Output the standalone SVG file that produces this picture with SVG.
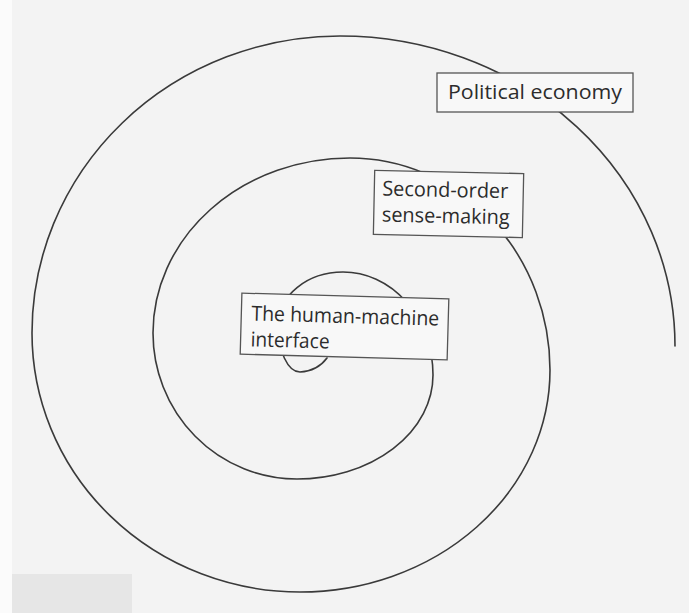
<svg xmlns="http://www.w3.org/2000/svg" width="689" height="613" viewBox="0 0 689 613">
<style>
.spiral{fill:none;stroke:#3a3a3a;stroke-width:1.6;stroke-linecap:round}
.box{fill:#f8f8f8;stroke:#555;stroke-width:1.3}
.lbl{font-family:"Open Sans","Noto Sans","Liberation Sans",sans-serif;font-size:20.5px;fill:#2c2c2c}
</style>
<rect x="0" y="0" width="689" height="613" fill="#f3f3f3"/>
<rect x="0" y="0" width="12" height="613" fill="#fbfbfb"/>
<rect x="12" y="574" width="120" height="39" fill="#e6e6e6"/>
<g id="connectors">
<path class="spiral" d="M 675 346 A 335 310 0 0 0 340 36 A 308 297 0 0 0 32 333 A 268 259 0 0 0 300 592 A 250 222 0 0 0 550 370 A 200 212 0 0 0 350 158 A 197 175 0 0 0 153 333 A 144 146 0 0 0 297 479 A 136 104 0 0 0 433 375 A 90 103 0 0 0 343 272 A 65 53 0 0 0 278 325 A 22 47 0 0 0 300 372 A 35 32 0 0 0 327 358"/>
</g>
<g id="political-economy">
<rect class="box" x="437" y="73" width="196" height="39"/>
<text class="lbl" x="448" y="99" textLength="174" lengthAdjust="spacingAndGlyphs">Political economy</text>
</g>
<g id="second-order" transform="rotate(1.2 448 205)">
<rect class="box" x="374" y="172" width="149" height="64"/>
<text class="lbl" x="382" y="197" textLength="126" lengthAdjust="spacingAndGlyphs">Second-order</text>
<text class="lbl" x="382" y="223" textLength="128" lengthAdjust="spacingAndGlyphs">sense-making</text>
</g>
<g id="human-machine" transform="rotate(1.6 344 327)">
<rect class="box" x="241" y="296" width="207" height="61"/>
<text class="lbl" x="251" y="323" textLength="188" lengthAdjust="spacingAndGlyphs">The human-machine</text>
<text class="lbl" x="251" y="349" textLength="79" lengthAdjust="spacingAndGlyphs">interface</text>
</g>
</svg>
